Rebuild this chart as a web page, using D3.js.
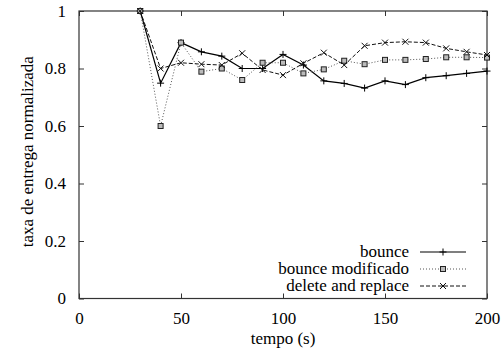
<!DOCTYPE html>
<html>
<head>
<meta charset="utf-8">
<script src="https://cdn.jsdelivr.net/npm/d3@7"></script>
<style>
  body { margin: 0; background: #fff; }
  svg text { font-family: "Liberation Serif", "Times New Roman", Times, serif !important; font-size: 17px; fill: #000; }
</style>
</head>
<body>
<div id="chart"></div>
<script>
// data
var tempo = [30, 40, 50, 60, 70, 80, 90, 100, 110, 120, 130, 140, 150, 160, 170, 180, 190, 200];
var bounce = [1.0, 0.749, 0.89, 0.858, 0.843, 0.80, 0.80, 0.849, 0.812, 0.757, 0.748, 0.732, 0.757, 0.744, 0.768, 0.775, 0.783, 0.791];
var bounce_mod = [1.0, 0.60, 0.89, 0.789, 0.80, 0.76, 0.82, 0.82, 0.783, 0.797, 0.827, 0.815, 0.83, 0.83, 0.833, 0.839, 0.839, 0.838];
var delete_replace = [1.0, 0.80, 0.82, 0.815, 0.812, 0.853, 0.795, 0.777, 0.818, 0.855, 0.812, 0.879, 0.89, 0.893, 0.89, 0.87, 0.858, 0.847];
var series_names = ['bounce', 'bounce modificado', 'delete and replace'];
var x_ticks = [0, 50, 100, 150, 200];
var y_ticks = [0, 0.2, 0.4, 0.6, 0.8, 1];

const svg_width = 503, svg_height = 352;
const plot_left = 79, plot_right = 487, plot_top = 11, plot_bottom = 298.5;
const serif = '"Liberation Serif", "Times New Roman", serif';

var svg = d3.select('#chart').append('svg')
  .attr('width', svg_width)
  .attr('height', svg_height);

var x = d3.scaleLinear().domain([0, 200]).range([plot_left, plot_right]);
var y = d3.scaleLinear().domain([0, 1]).range([plot_bottom, plot_top]);

// axes, ticks inward, mirrored on top and right
svg.append('g')
  .attr('transform', `translate(0,${plot_bottom})`)
  .call(d3.axisBottom(x).tickValues(x_ticks).tickSizeInner(-5).tickSizeOuter(0).tickPadding(13).tickFormat(d3.format('d')))
  .call(g => g.select('.domain').remove());
svg.append('g')
  .attr('transform', `translate(0,${plot_top})`)
  .call(d3.axisTop(x).tickValues(x_ticks).tickSizeInner(-5).tickSizeOuter(0).tickFormat(''))
  .call(g => g.select('.domain').remove());
svg.append('g')
  .attr('transform', `translate(${plot_left},0)`)
  .call(d3.axisLeft(y).tickValues(y_ticks).tickSizeInner(-5).tickSizeOuter(0).tickPadding(13).tickFormat(d3.format('')))
  .call(g => g.select('.domain').remove());
svg.append('g')
  .attr('transform', `translate(${plot_right},0)`)
  .call(d3.axisRight(y).tickValues(y_ticks).tickSizeInner(-5).tickSizeOuter(0).tickFormat(''))
  .call(g => g.select('.domain').remove());

svg.selectAll('g').attr('font-family', serif).attr('font-size', 17);
svg.selectAll('.tick line').attr('stroke', '#333');
svg.selectAll('.tick text').attr('fill', '#000');

// border
svg.append('rect')
  .attr('x', plot_left).attr('y', plot_top)
  .attr('width', plot_right - plot_left).attr('height', plot_bottom - plot_top)
  .attr('fill', 'none').attr('stroke', '#333').attr('stroke-width', 1.2);

// axis labels
svg.append('text')
  .attr('x', (plot_left + plot_right) / 2).attr('y', 344)
  .attr('text-anchor', 'middle')
  .attr('font-family', serif)
  .text('tempo (s)');
svg.append('text')
  .attr('transform', `translate(33,${(plot_top + plot_bottom) / 2 - 3}) rotate(-90)`)
  .attr('text-anchor', 'middle')
  .attr('font-family', serif)
  .text('taxa de entrega normalizada');

// markers
function draw_marker(g, kind, cx, cy) {
  if (kind === 'plus') {
    g.append('path').attr('d', `M${cx - 3.5},${cy}H${cx + 3.5}M${cx},${cy - 3.5}V${cy + 3.5}`)
      .attr('stroke', '#000').attr('stroke-width', 1);
  } else if (kind === 'box') {
    g.append('rect').attr('x', cx - 2.5).attr('y', cy - 2.5).attr('width', 5).attr('height', 5)
      .attr('fill', '#bbb').attr('stroke', '#222').attr('stroke-width', 1);
  } else {
    g.append('path').attr('d', `M${cx - 3},${cy - 3}L${cx + 3},${cy + 3}M${cx - 3},${cy + 3}L${cx + 3},${cy - 3}`)
      .attr('stroke', '#111').attr('stroke-width', 1);
  }
}

var styles = [
  { values: bounce, dash: null, color: '#000', width: 1.2, marker: 'plus' },
  { values: bounce_mod, dash: '1,2', color: '#555', width: 1, marker: 'box' },
  { values: delete_replace, dash: '4,2', color: '#111', width: 1, marker: 'cross' }
];

var line = d3.line().x(d => x(d[0])).y(d => y(d[1]));

styles.forEach(function(s, i) {
  var pts = tempo.map((t, j) => [t, s.values[j]]);
  var g = svg.append('g');
  g.append('path')
    .attr('d', line(pts))
    .attr('fill', 'none')
    .attr('stroke', s.color)
    .attr('stroke-width', s.width)
    .attr('stroke-dasharray', s.dash);
  pts.forEach(p => draw_marker(g, s.marker, x(p[0]), y(p[1])));

  // legend row
  var ly = 252 + i * 17;
  svg.append('text')
    .attr('x', 409).attr('y', ly + 5)
    .attr('text-anchor', 'end')
    .attr('font-family', serif)
    .text(series_names[i]);
  g.append('line')
    .attr('x1', 420).attr('x2', 466).attr('y1', ly).attr('y2', ly)
    .attr('stroke', s.color).attr('stroke-width', s.width)
    .attr('stroke-dasharray', s.dash);
  draw_marker(g, s.marker, 443, ly);
});
</script>
</body>
</html>
